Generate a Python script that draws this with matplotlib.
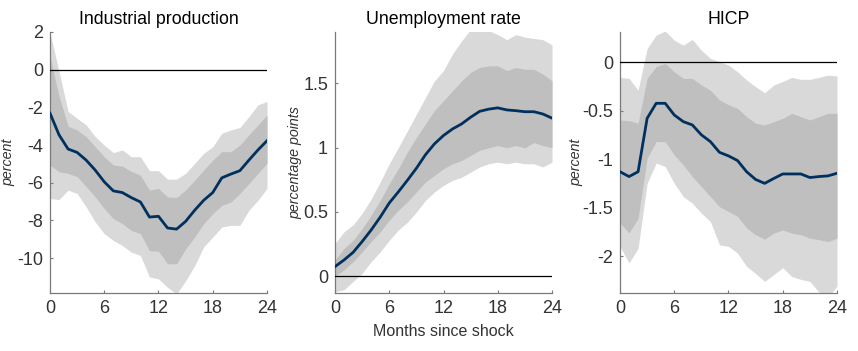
import matplotlib
matplotlib.use("Agg")
import matplotlib.pyplot as plt
import numpy as np

plt.rcParams['font.family'] = ['Liberation Sans', 'DejaVu Sans']

months = list(range(25))
titles = ["Industrial production", "Unemployment rate", "HICP"]
ylabels = ["percent", "percentage points", "percent"]
xlabel_mid = "Months since shock"

# Industrial production
ip_med = [-2.31, -3.46, -4.21, -4.39, -4.8, -5.33, -5.95, -6.43, -6.52, -6.79, -7.02, -7.82, -7.78,
          -8.4, -8.46, -8.05, -7.46, -6.93, -6.52, -5.74, -5.54, -5.36, -4.8, -4.26, -3.77]
ip_hi90 = [1.95, -0.1, -2.22, -2.58, -2.93, -3.55, -4.0, -4.4, -4.26, -4.62, -4.62, -5.36, -5.36,
           -5.81, -5.81, -5.5, -4.97, -4.44, -4.09, -3.37, -3.2, -3.07, -2.49, -1.86, -1.69]
ip_hi68 = [0.7, -1.42, -3.0, -3.2, -3.55, -4.09, -4.62, -5.06, -5.12, -5.4, -5.6, -6.39, -6.3,
           -6.75, -6.78, -6.39, -5.86, -5.33, -4.8, -4.35, -4.35, -4.0, -3.46, -2.93, -2.4]
ip_lo68 = [-5.06, -5.42, -5.5, -5.68, -6.2, -6.75, -7.37, -7.9, -8.17, -8.53, -8.7, -9.6, -9.63,
           -10.3, -10.3, -9.5, -8.88, -8.17, -7.64, -7.2, -7.02, -6.57, -6.04, -5.5, -4.97]
ip_lo90 = [-6.84, -6.89, -6.39, -6.57, -7.28, -8.08, -8.7, -9.06, -9.33, -9.68, -9.86, -11.0, -11.1,
           -11.55, -11.9, -11.2, -10.4, -9.4, -8.88, -8.35, -8.26, -8.26, -7.46, -6.93, -6.3]

# Unemployment rate
ur_med = [0.075, 0.127, 0.186, 0.27, 0.36, 0.46, 0.57, 0.656, 0.746, 0.84, 0.945, 1.03, 1.095,
          1.146, 1.185, 1.237, 1.283, 1.30, 1.31, 1.294, 1.288, 1.28, 1.28, 1.262, 1.23]
ur_hi90 = [0.255, 0.346, 0.40, 0.49, 0.60, 0.733, 0.875, 1.0, 1.13, 1.26, 1.39, 1.52, 1.6,
           1.73, 1.83, 1.92, 1.93, 1.91, 1.88, 1.84, 1.88, 1.86, 1.85, 1.84, 1.80]
ur_hi68 = [0.127, 0.217, 0.28, 0.37, 0.475, 0.59, 0.72, 0.837, 0.966, 1.08, 1.185, 1.29, 1.366,
           1.443, 1.52, 1.585, 1.624, 1.637, 1.637, 1.6, 1.624, 1.61, 1.61, 1.572, 1.52]
ur_lo68 = [0.0, 0.05, 0.114, 0.19, 0.27, 0.346, 0.436, 0.514, 0.578, 0.656, 0.733, 0.785, 0.837,
           0.875, 0.90, 0.94, 0.98, 1.0, 1.017, 1.0, 1.017, 1.0, 1.04, 1.017, 1.0]
ur_lo90 = [-0.12, -0.105, -0.04, 0.023, 0.114, 0.19, 0.28, 0.36, 0.42, 0.50, 0.59, 0.656, 0.707,
           0.746, 0.77, 0.81, 0.85, 0.875, 0.888, 0.875, 0.888, 0.875, 0.875, 0.85, 0.888]

# HICP
hi_med = [-1.13, -1.18, -1.13, -0.58, -0.425, -0.425, -0.545, -0.614, -0.648, -0.75, -0.82, -0.93, -0.967,
          -1.015, -1.13, -1.21, -1.25, -1.2, -1.153, -1.153, -1.153, -1.19, -1.18, -1.173, -1.146]
hi_hi90 = [-0.158, -0.168, -0.29, 0.14, 0.278, 0.32, 0.226, 0.175, 0.233, 0.123, 0.038, 0.003, -0.03,
           -0.1, -0.185, -0.254, -0.316, -0.237, -0.2, -0.158, -0.178, -0.178, -0.158, -0.134, -0.144]
hi_hi68 = [-0.597, -0.604, -0.63, -0.168, -0.048, -0.014, -0.1, -0.168, -0.168, -0.237, -0.29, -0.39, -0.44,
           -0.477, -0.563, -0.63, -0.648, -0.614, -0.58, -0.528, -0.563, -0.597, -0.563, -0.528, -0.528]
hi_lo68 = [-1.66, -1.76, -1.61, -0.99, -0.82, -0.82, -0.957, -1.06, -1.18, -1.283, -1.386, -1.49, -1.54,
           -1.59, -1.71, -1.78, -1.825, -1.763, -1.73, -1.763, -1.78, -1.815, -1.83, -1.85, -1.815]
hi_lo90 = [-1.9, -2.07, -1.92, -1.25, -1.04, -1.077, -1.25, -1.386, -1.455, -1.557, -1.643, -1.883, -1.9,
           -1.97, -2.106, -2.18, -2.26, -2.19, -2.12, -2.21, -2.24, -2.26, -2.37, -2.42, -2.31]

panels = [
    (ip_med, ip_lo90, ip_hi90, ip_lo68, ip_hi68),
    (ur_med, ur_lo90, ur_hi90, ur_lo68, ur_hi68),
    (hi_med, hi_lo90, hi_hi90, hi_lo68, hi_hi68),
]
ylims = [(-11.85, 2.0), (-0.13, 1.9), (-2.38, 0.31)]
yticks = [[-10, -8, -6, -4, -2, 0, 2], [0, 0.5, 1, 1.5], [-2, -1.5, -1, -0.5, 0]]
yticklabels = [["-10", "-8", "-6", "-4", "-2", "0", "2"], ["0", "0.5", "1", "1.5"],
               ["-2", "-1.5", "-1", "-0.5", "0"]]
xticks = [0, 6, 12, 18, 24]

fig = plt.figure(figsize=(8.58, 3.51), dpi=100)
lefts = [50 / 858, 335 / 858, 620 / 858]
w = 217 / 858
b = 1 - 293 / 351
h = (293 - 32) / 351
ylabel_x = [-0.16, -0.152, -0.17]

light = '#d9d9d9'
dark = '#bfbfbf'
navy = '#00305e'
txt = '#333333'
axc = '#7a7a7a'

for i, (med, lo90, hi90, lo68, hi68) in enumerate(panels):
    ax = fig.add_axes([lefts[i], b, w, h])
    x = np.array(months)
    ax.fill_between(x, lo90, hi90, color=light, lw=0, zorder=1)
    ax.fill_between(x, lo68, hi68, color=dark, lw=0, zorder=2)
    ax.plot([0, 24], [0, 0], color='black', lw=0.9, zorder=3)
    ax.plot(x, med, color=navy, lw=2.0, zorder=4)
    ax.set_xlim(0, 24)
    ax.set_ylim(*ylims[i])
    ax.set_xticks(xticks)
    ax.set_xticklabels([str(t) for t in xticks])
    ax.set_yticks(yticks[i])
    ax.set_yticklabels(yticklabels[i])
    for s in ['top', 'right']:
        ax.spines[s].set_visible(False)
    for s in ['left', 'bottom']:
        ax.spines[s].set_color(axc)
        ax.spines[s].set_linewidth(0.9)
    ax.tick_params(direction='in', length=2.5, width=0.8, color=axc, labelcolor=txt,
                   labelsize=13, pad=5)
    ax.set_title(titles[i], fontsize=12.8, color='black', pad=6)
    ax.set_ylabel(ylabels[i], fontsize=10.3, style='italic', color=txt)
    ax.yaxis.set_label_coords(ylabel_x[i], 0.5)
    if i == 1:
        ax.set_xlabel(xlabel_mid, fontsize=11.5, color=txt, labelpad=5)

fig.savefig("out.png", dpi=100)
